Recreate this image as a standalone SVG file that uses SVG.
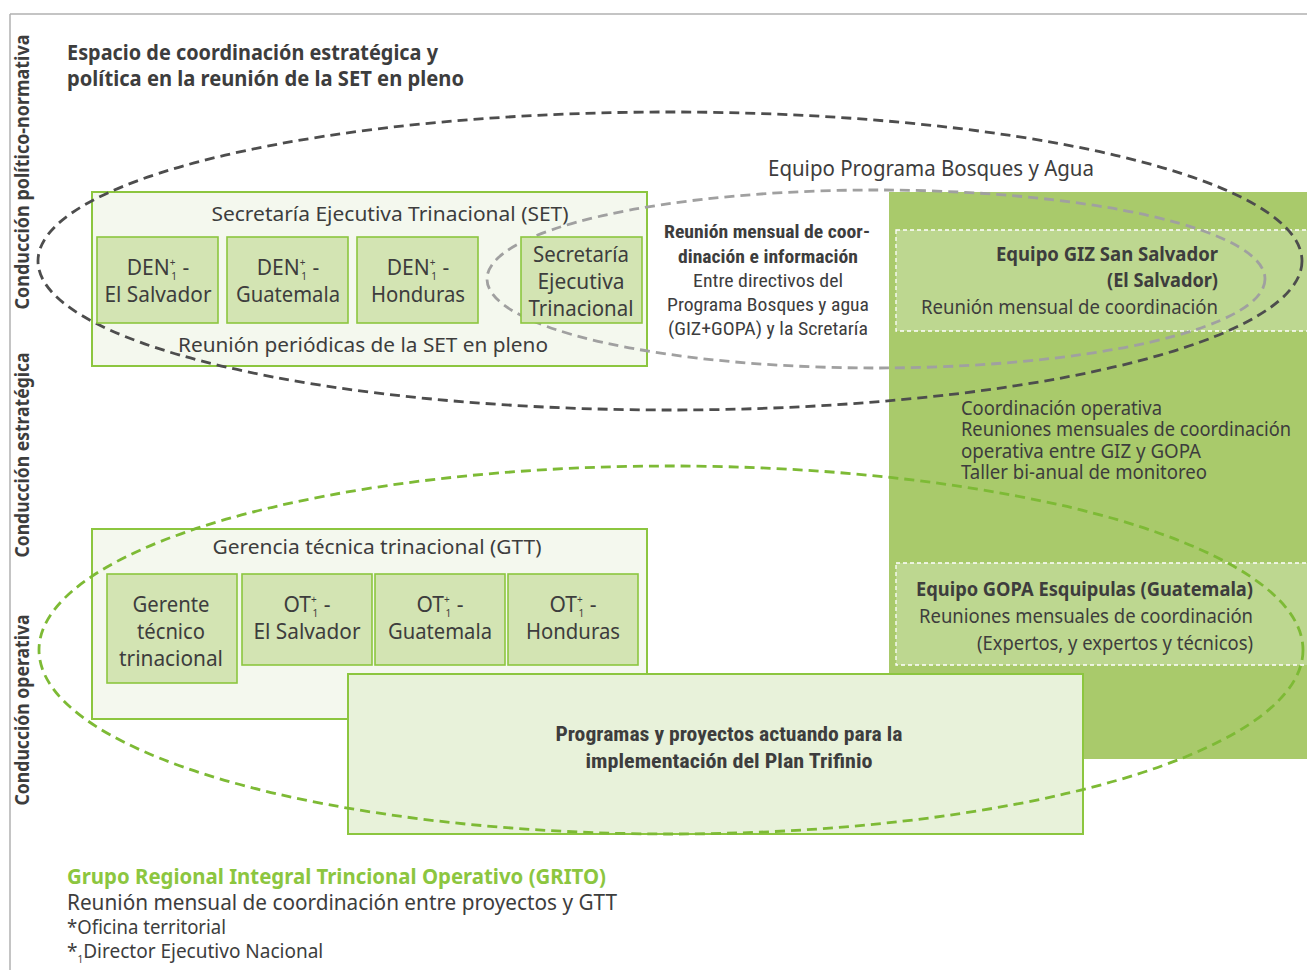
<svg xmlns="http://www.w3.org/2000/svg" width="1307" height="970" viewBox="0 0 1307 970">
<style>
text{font-family:"Noto Sans","Open Sans","DejaVu Sans",sans-serif;fill:#3d3d3d;}
.b{font-weight:bold;}
.c{font-family:"Liberation Sans Narrow","Roboto Condensed","Noto Sans",sans-serif;}
.box{fill:#f4f8ee;stroke:#8cc63f;stroke-width:2;}
.in{fill:#d3e4b3;stroke:#8cc63f;stroke-width:1.6;}
.prog{fill:#e8f2da;stroke:#8cc63f;stroke-width:2;}
.lt{fill:#bdd790;stroke:#ffffff;stroke-width:1.3;stroke-dasharray:4 3;}
.ell{fill:none;stroke-width:2.8;stroke-dasharray:10 6;}
.m{text-anchor:middle;}
.r{text-anchor:end;}
.sup{font-size:10px;}
</style>
<rect width="1307" height="970" fill="#ffffff"/>
<g id="frame">
<line x1="10" y1="14" x2="1307" y2="14" stroke="#b0b0b0" stroke-width="1.5"/>
<line x1="10" y1="14" x2="10" y2="970" stroke="#b0b0b0" stroke-width="1.5"/>
</g>
<g id="side-labels">
<text class="b m" font-size="19" transform="translate(29,172) rotate(-90)" textLength="275" lengthAdjust="spacingAndGlyphs">Conducción político-normativa</text>
<text class="b m" font-size="19" transform="translate(29,455) rotate(-90)" textLength="205" lengthAdjust="spacingAndGlyphs">Conducción estratégica</text>
<text class="b m" font-size="19" transform="translate(29,710) rotate(-90)" textLength="191" lengthAdjust="spacingAndGlyphs">Conducción operativa</text>
</g>
<g id="title">
<text class="b" x="67" y="60" font-size="21" textLength="371" lengthAdjust="spacingAndGlyphs">Espacio de coordinación estratégica y</text>
<text class="b" x="67" y="86" font-size="21" textLength="397" lengthAdjust="spacingAndGlyphs">política en la reunión de la SET en pleno</text>
</g>
<g id="panel">
<rect x="889" y="192" width="418" height="567" fill="#a9ca6b"/>
</g>
<g id="giz">
<rect class="lt" x="896" y="230" width="412" height="101"/>
<text class="b r" x="1218" y="261" font-size="20" textLength="222" lengthAdjust="spacingAndGlyphs">Equipo GIZ San Salvador</text>
<text class="b r" x="1218" y="287" font-size="20" textLength="111" lengthAdjust="spacingAndGlyphs">(El Salvador)</text>
<text class="r" x="1218" y="314" font-size="20" textLength="297" lengthAdjust="spacingAndGlyphs">Reunión mensual de coordinación</text>
</g>
<g id="coord-operativa">
<text x="961" y="415" font-size="19" textLength="201" lengthAdjust="spacingAndGlyphs">Coordinación operativa</text>
<text x="961" y="436" font-size="19" textLength="330" lengthAdjust="spacingAndGlyphs">Reuniones mensuales de coordinación</text>
<text x="961" y="458" font-size="19" textLength="240" lengthAdjust="spacingAndGlyphs">operativa entre GIZ y GOPA</text>
<text x="961" y="479" font-size="19" textLength="246" lengthAdjust="spacingAndGlyphs">Taller bi-anual de monitoreo</text>
</g>
<g id="gopa">
<rect class="lt" x="896" y="563" width="412" height="102"/>
<text class="b r" x="1253" y="596" font-size="20" textLength="337" lengthAdjust="spacingAndGlyphs">Equipo GOPA Esquipulas (Guatemala)</text>
<text class="r" x="1253" y="623" font-size="20" textLength="334" lengthAdjust="spacingAndGlyphs">Reuniones mensuales de coordinación</text>
<text class="r" x="1253" y="650" font-size="20" textLength="276" lengthAdjust="spacingAndGlyphs">(Expertos, y expertos y técnicos)</text>
</g>
<g id="set">
<rect class="box" x="92" y="192" width="555" height="174"/>
<text class="m" x="390" y="221" font-size="20" textLength="357" lengthAdjust="spacingAndGlyphs">Secretaría Ejecutiva Trinacional (SET)</text>
<text class="m" x="363" y="352" font-size="20" textLength="370" lengthAdjust="spacingAndGlyphs">Reunión periódicas de la SET en pleno</text>
</g>
<g id="gtt">
<rect class="box" x="92" y="529" width="555" height="190"/>
<text class="m" x="377" y="554" font-size="20" textLength="329" lengthAdjust="spacingAndGlyphs">Gerencia técnica trinacional (GTT)</text>
</g>
<g id="programas">
<rect class="prog" x="348" y="674" width="735" height="160"/>
<text class="b m c" x="729" y="741" font-size="20" textLength="347" lengthAdjust="spacingAndGlyphs">Programas y proyectos actuando para la</text>
<text class="b m c" x="729" y="768" font-size="20" textLength="287" lengthAdjust="spacingAndGlyphs">implementación del Plan Trifinio</text>
</g>
<g id="equipo-label">
<text x="768" y="176" font-size="21" textLength="326" lengthAdjust="spacingAndGlyphs">Equipo Programa Bosques y Agua</text>
</g>
<g id="reunion-mensual">
<text class="b m c" x="767" y="238" font-size="18" textLength="206" lengthAdjust="spacingAndGlyphs">Reunión mensual de coor-</text>
<text class="b m c" x="768" y="263" font-size="18" textLength="180" lengthAdjust="spacingAndGlyphs">dinación e información</text>
<text class="m c" x="768" y="287" font-size="18" textLength="150" lengthAdjust="spacingAndGlyphs">Entre directivos del</text>
<text class="m c" x="768" y="311" font-size="18" textLength="202" lengthAdjust="spacingAndGlyphs">Programa Bosques y agua</text>
<text class="m c" x="768" y="335" font-size="18" textLength="200" lengthAdjust="spacingAndGlyphs">(GIZ+GOPA) y la Scretaría</text>
</g>
<g id="connectors">
<ellipse class="ell" cx="670" cy="261" rx="632" ry="149" stroke="#4d4d4d"/>
<ellipse class="ell" cx="876" cy="279" rx="389" ry="89" stroke="#a0a0a0"/>
<ellipse class="ell" cx="671" cy="650" rx="632" ry="184" stroke="#7dba35"/>
</g>
<g id="den-sv">
<rect class="in" x="97" y="237" width="121" height="86"/>
<text class="m" x="158" y="275" font-size="21">DEN<tspan class="sup" dy="-9">+</tspan><tspan class="sup" dx="-4" dy="14">1</tspan><tspan dy="-5"> -</tspan></text>
<text class="m" x="158" y="302" font-size="21" textLength="107" lengthAdjust="spacingAndGlyphs">El Salvador</text>
</g>
<g id="den-gt">
<rect class="in" x="227" y="237" width="121" height="86"/>
<text class="m" x="288" y="275" font-size="21">DEN<tspan class="sup" dy="-9">+</tspan><tspan class="sup" dx="-4" dy="14">1</tspan><tspan dy="-5"> -</tspan></text>
<text class="m" x="288" y="302" font-size="21" textLength="104" lengthAdjust="spacingAndGlyphs">Guatemala</text>
</g>
<g id="den-hn">
<rect class="in" x="357" y="237" width="121" height="86"/>
<text class="m" x="418" y="275" font-size="21">DEN<tspan class="sup" dy="-9">+</tspan><tspan class="sup" dx="-4" dy="14">1</tspan><tspan dy="-5"> -</tspan></text>
<text class="m" x="418" y="302" font-size="21" textLength="94" lengthAdjust="spacingAndGlyphs">Honduras</text>
</g>
<g id="set-secretaria">
<rect class="in" x="521" y="237" width="121" height="86"/>
<text class="m" x="581" y="262" font-size="21" textLength="96" lengthAdjust="spacingAndGlyphs">Secretaría</text>
<text class="m" x="581" y="289" font-size="21" textLength="87" lengthAdjust="spacingAndGlyphs">Ejecutiva</text>
<text class="m" x="581" y="316" font-size="21" textLength="105" lengthAdjust="spacingAndGlyphs">Trinacional</text>
</g>
<g id="gerente">
<rect class="in" x="107" y="574" width="130" height="109"/>
<text class="m" x="171" y="612" font-size="21" textLength="77" lengthAdjust="spacingAndGlyphs">Gerente</text>
<text class="m" x="171" y="639" font-size="21" textLength="68" lengthAdjust="spacingAndGlyphs">técnico</text>
<text class="m" x="171" y="666" font-size="21" textLength="104" lengthAdjust="spacingAndGlyphs">trinacional</text>
</g>
<g id="ot-sv">
<rect class="in" x="242" y="574" width="130" height="91"/>
<text class="m" x="307" y="612" font-size="21">OT<tspan class="sup" dy="-9">+</tspan><tspan class="sup" dx="-4" dy="14">1</tspan><tspan dy="-5"> -</tspan></text>
<text class="m" x="307" y="639" font-size="21" textLength="107" lengthAdjust="spacingAndGlyphs">El Salvador</text>
</g>
<g id="ot-gt">
<rect class="in" x="375" y="574" width="130" height="91"/>
<text class="m" x="440" y="612" font-size="21">OT<tspan class="sup" dy="-9">+</tspan><tspan class="sup" dx="-4" dy="14">1</tspan><tspan dy="-5"> -</tspan></text>
<text class="m" x="440" y="639" font-size="21" textLength="104" lengthAdjust="spacingAndGlyphs">Guatemala</text>
</g>
<g id="ot-hn">
<rect class="in" x="508" y="574" width="130" height="91"/>
<text class="m" x="573" y="612" font-size="21">OT<tspan class="sup" dy="-9">+</tspan><tspan class="sup" dx="-4" dy="14">1</tspan><tspan dy="-5"> -</tspan></text>
<text class="m" x="573" y="639" font-size="21" textLength="94" lengthAdjust="spacingAndGlyphs">Honduras</text>
</g>
<g id="legend">
<text class="b" x="67" y="884" font-size="21" style="fill:#8cc63f" textLength="539" lengthAdjust="spacingAndGlyphs">Grupo Regional Integral Trincional Operativo (GRITO)</text>
<text x="67" y="910" font-size="21" textLength="550" lengthAdjust="spacingAndGlyphs">Reunión mensual de coordinación entre proyectos y GTT</text>
<text x="67" y="934" font-size="19" textLength="159" lengthAdjust="spacingAndGlyphs">*Oficina territorial</text>
<text x="67" y="958" font-size="19">*<tspan font-size="10" dy="5">1</tspan><tspan dy="-5">Director Ejecutivo Nacional</tspan></text>
</g>
</svg>
